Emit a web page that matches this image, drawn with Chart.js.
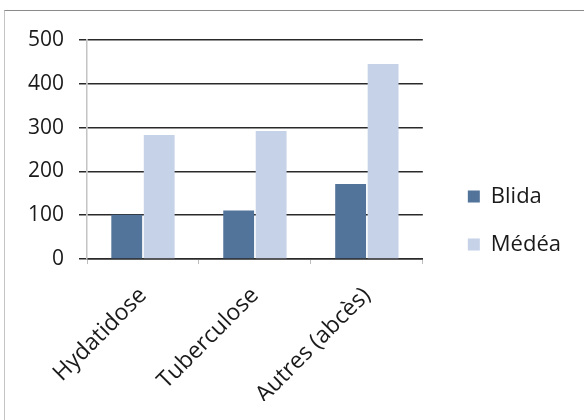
<!DOCTYPE html>
<html>
<head>
<meta charset="utf-8">
<script src="https://cdn.jsdelivr.net/npm/chart.js@4/dist/chart.umd.min.js"></script>
<style>
  html, body { margin: 0; padding: 0; background: #ffffff; }
  #wrap { position: relative; width: 584px; height: 420px; overflow: hidden; }
  #frame {
    position: absolute; left: 4px; top: 10px; width: 590px; height: 430px;
    border-top: 1px solid #8a8a8a; border-left: 1px solid #c4c4c4;
  }
  #chart { position: absolute; left: 0; top: 0; }
</style>
</head>
<body>
<div id="wrap">
  <div id="frame"></div>
  <canvas id="chart" width="584" height="420"></canvas>
</div>
<script>
// Cases by type, for the two wilayas
const categories = ['Hydatidose', 'Tuberculose', 'Autres (abcès)'];
const blida = [101, 111, 171];
const medea = [283, 292, 445];
const yTicks = [0, 100, 200, 300, 400, 500];

const FONT = "'Open Sans', 'DejaVu Sans', sans-serif";
const INK = '#1a1a1a';
const LEGEND_EXTRA_GAP = 19; // extra space between plot and legend

// Widens the gap on the left of the legend without changing its row spacing
const legendGap = {
  id: 'legendGap',
  beforeLayout(chart) {
    const lg = chart.legend;
    if (lg && !lg.__gapWrapped) {
      const fit = lg.fit;
      lg.fit = function () { fit.call(this); this.width += LEGEND_EXTRA_GAP; };
      lg.__gapWrapped = true;
    }
  },
  afterLayout(chart) {
    const lg = chart.legend;
    if (lg) { lg.left += LEGEND_EXTRA_GAP; lg.right += LEGEND_EXTRA_GAP; }
  }
};

new Chart(document.getElementById('chart'), {
  type: 'bar',
  data: {
    labels: categories,
    datasets: [
      { label: 'Blida', data: blida, backgroundColor: '#52739a', borderWidth: 0 },
      { label: 'Médéa', data: medea, backgroundColor: '#c6d2e8', borderWidth: 0 }
    ]
  },
  plugins: [legendGap],
  options: {
    responsive: false,
    animation: false,
    events: [],
    categoryPercentage: 0.58,
    barPercentage: 0.95,
    layout: { padding: { left: 20, top: 40, right: 13, bottom: 19 } },
    plugins: {
      tooltip: { enabled: false },
      legend: {
        position: 'right',
        align: 'center',
        labels: {
          color: INK,
          font: { family: FONT, size: 22 },
          boxWidth: 12,
          boxHeight: 12,
          padding: 26
        }
      }
    },
    scales: {
      x: {
        afterFit(scale) { scale.height = 142; },
        grid: {
          display: true,
          drawOnChartArea: false,
          drawTicks: true,
          tickLength: 5,
          color: '#bdbdbd',
          lineWidth: 1
        },
        border: { display: true, color: '#2a2a2a', width: 1.5 },
        ticks: {
          color: INK,
          font: { family: FONT, size: 23 },
          minRotation: 45,
          maxRotation: 45,
          padding: 18
        }
      },
      y: {
        min: 0,
        max: 500,
        afterFit(scale) { scale.width = 67; },
        afterBuildTicks(scale) { scale.ticks = yTicks.map(v => ({ value: v })); },
        grid: {
          color: '#2a2a2a',
          lineWidth: 1.5,
          drawTicks: true,
          tickLength: 8
        },
        border: { display: true, color: '#c4c4c4', width: 1.5 },
        ticks: {
          color: INK,
          font: { family: FONT, size: 21 },
          padding: 15
        }
      }
    }
  }
});
</script>
</body>
</html>
